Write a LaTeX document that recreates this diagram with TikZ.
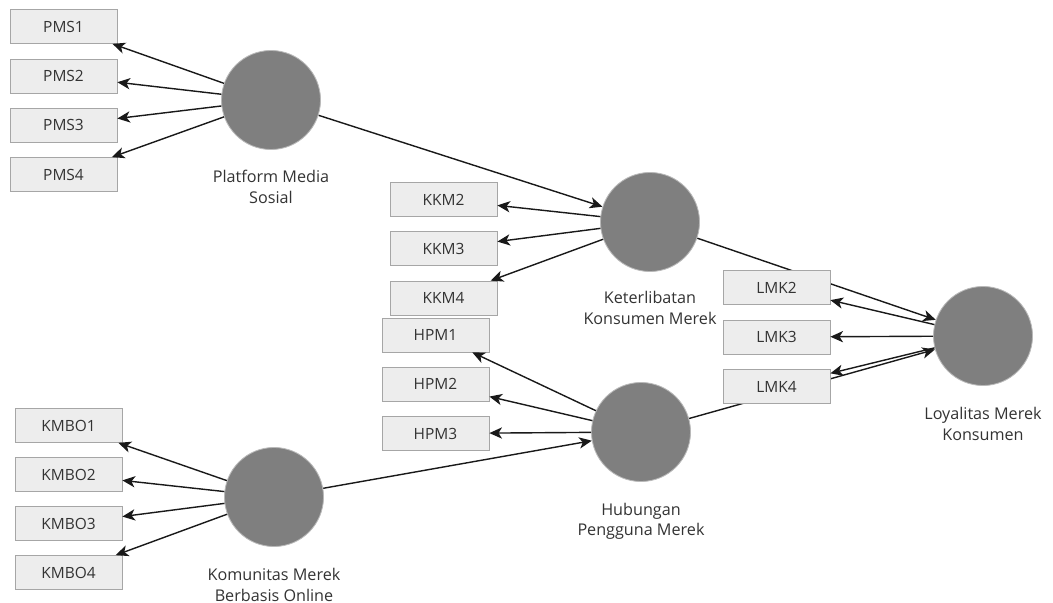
\documentclass[tikz,border=0pt]{standalone}
\usepackage{fontspec}
\setmainfont{Open Sans}
\definecolor{lvgray}{HTML}{7F7F7F}
\definecolor{boxfill}{HTML}{EDEDED}
\definecolor{boxline}{HTML}{A6A6A6}
\definecolor{teks}{HTML}{333333}
\usetikzlibrary{arrows.meta, backgrounds}

\begin{document}
\begin{tikzpicture}[x=0.025cm, y=-0.025cm,
  konstruk/.style={circle, fill=lvgray, draw=lvgray!55, line width=0.6pt,
                   minimum size=2.475cm, inner sep=0pt},
  indikator/.style={draw=boxline, fill=boxfill, line width=0.5pt,
                    minimum width=2.675cm, minimum height=0.85cm, inner sep=0pt,
                    font=\fontsize{11}{12}\selectfont, text=teks},
  namalv/.style={align=center, text=teks, font=\fontsize{11.5}{14.5}\selectfont},
  panah/.style={-{Stealth[length=9pt,width=8pt,inset=2.5pt]}, line width=1pt, draw=black!90},
]
\useasboundingbox (0,0) rectangle (1053,603);

% konstruk laten
\node[konstruk] (pms) at (271,100) {};
\node[konstruk] (kkm) at (650,222) {};
\node[konstruk] (hpm) at (641,432) {};
\node[konstruk] (lmk) at (983,336) {};
\node[konstruk] (kmbo) at (274,497) {};

\node[namalv] (pmsnama) at (271,187) {Platform Media\\Sosial};
\node[namalv] (kkmnama) at (650,308) {Keterlibatan\\Konsumen Merek};
\node[namalv] (hpmnama) at (641,521) {Hubungan\\Pengguna Merek};
\node[namalv] (lmknama) at (983,424) {Loyalitas Merek\\Konsumen};
\node[namalv] (kmbonama) at (274,585) {Komunitas Merek\\Berbasis Online};

% indikator
\node[indikator] (pms1) at (63.5,26.5) {PMS1};
\node[indikator] (pms2) at (63.5,76) {PMS2};
\node[indikator] (pms3) at (63.5,125) {PMS3};
\node[indikator] (pms4) at (63.5,174.5) {PMS4};

\node[indikator] (kkm2) at (443.5,199.5) {KKM2};
\node[indikator] (kkm3) at (443.5,248.5) {KKM3};
\node[indikator] (kkm4) at (443.5,298) {KKM4};

\node[indikator] (hpm1) at (435.5,335) {HPM1};
\node[indikator] (hpm2) at (435.5,384) {HPM2};
\node[indikator] (hpm3) at (435.5,433.5) {HPM3};

\node[indikator] (lmk2) at (776.5,287.5) {LMK2};
\node[indikator] (lmk3) at (776.5,337) {LMK3};
\node[indikator] (lmk4) at (776.5,386.5) {LMK4};

\node[indikator] (kmbo1) at (68.5,425.5) {KMBO1};
\node[indikator] (kmbo2) at (68.5,474.5) {KMBO2};
\node[indikator] (kmbo3) at (68.5,523.5) {KMBO3};
\node[indikator] (kmbo4) at (68.5,572.5) {KMBO4};

% jalur struktural (di belakang kotak)
\begin{scope}[on background layer]
  \draw[panah] (pms) -- (kkm);
  \draw[panah] (kmbo) -- (hpm);
  \draw[panah] (kkm) -- (lmk);
  \draw[panah] (hpm) -- (lmk);
\end{scope}

% outer loading
\draw[panah] (pms) -- (pms1);
\draw[panah] (pms) -- (pms2);
\draw[panah] (pms) -- (pms3);
\draw[panah] (pms) -- (pms4);
\draw[panah] (kkm) -- (kkm2);
\draw[panah] (kkm) -- (kkm3);
\draw[panah] (kkm) -- (kkm4);
\draw[panah] (hpm) -- (hpm1);
\draw[panah] (hpm) -- (hpm2);
\draw[panah] (hpm) -- (hpm3);
\draw[panah] (lmk) -- (lmk2);
\draw[panah] (lmk) -- (lmk3);
\draw[panah] (lmk) -- (lmk4);
\draw[panah] (kmbo) -- (kmbo1);
\draw[panah] (kmbo) -- (kmbo2);
\draw[panah] (kmbo) -- (kmbo3);
\draw[panah] (kmbo) -- (kmbo4);
\end{tikzpicture}
\end{document}
